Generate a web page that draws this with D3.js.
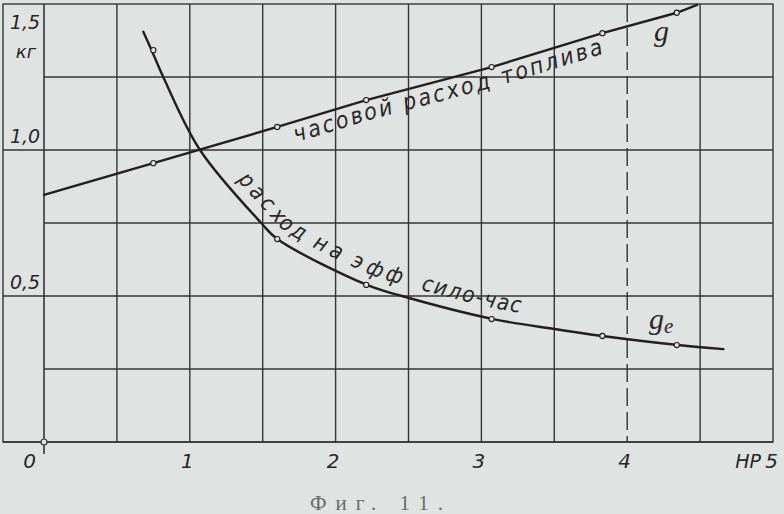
<!DOCTYPE html>
<html><head><meta charset="utf-8">
<script src="https://cdn.jsdelivr.net/npm/d3@7"></script>
<style>
html,body{margin:0;padding:0;background:#dfe3e2;}
svg{display:block;}
</style></head><body>
<svg id="chart" width="784" height="514"></svg>
<script>
// ---- data ----
const xTickValues = [0, 1, 2, 3, 4, 5];
const xTickLabels = ["0", "1", "2", "3", "4", "5"];
const xUnitLabel = "HP";
const xGridValues = [0.5, 1, 1.5, 2, 2.5, 3, 3.5, 4, 4.5];
const xDashedValue = 4;
const yTickValues = [0.5, 1.0, 1.5];
const yTickLabels = ["0,5", "1,0", "1,5"];
const yUnitLabel = "кг";
const yMajorGrid = [0.5, 1.0];
const yMinorGrid = [0.25, 0.75, 1.25];

// measured points (open circles)
const hpPoints = [0.75, 1.60, 2.21, 3.07, 3.83, 4.34];
const gPoints  = [0.955, 1.079, 1.171, 1.284, 1.400, 1.470];
const gePoints = [1.342, 0.695, 0.538, 0.421, 0.363, 0.332];

// line g (hourly fuel consumption) as drawn
const gLineX = [0, 0.75, 1.60, 2.21, 3.07, 3.83, 4.34, 4.48];
const gLineY = [0.846, 0.955, 1.079, 1.171, 1.284, 1.400, 1.470, 1.497];

// curve ge (consumption per effective HP-hour) as drawn
const geLineX = [0.681, 0.738, 0.818, 1.07, 1.49, 1.60, 2.215, 2.455, 3.08, 3.50, 3.83, 4.35, 4.66];
const geLineY = [1.405, 1.342, 1.25, 1.00, 0.75, 0.695, 0.538, 0.50, 0.421, 0.387, 0.363, 0.332, 0.318];

const gLabel = "часовой расход топлива";
const geWords = ["расход", "на", "эфф", "сило-час"];
const caption = "Фиг. 11.";

// ---- drawing ----
(function () {
const svg = d3.select("#chart");
const W = 784, H = 514;
const mLeft = 44, mRight = 773, mTop = 4, mBottom = 442, frameLeft = 3;
const x = d3.scaleLinear().domain([0, 5]).range([mLeft, mRight]);
const y = d3.scaleLinear().domain([0, 1.5]).range([mBottom, mTop]);

const bg = "#dfe3e2", gridC = "#353535", inkC = "#261d21";

svg.append("rect").attr("width", W).attr("height", H).attr("fill", bg);

const grid = svg.append("g").attr("stroke", gridC).attr("stroke-width", 1.4).attr("fill", "none");
grid.selectAll(".vg").data(xGridValues).join("line")
  .attr("x1", d => x(d)).attr("x2", d => x(d))
  .attr("y1", y(1.5)).attr("y2", y(0))
  .attr("stroke-dasharray", d => d === xDashedValue ? "18,6" : null);
grid.selectAll(".hm").data(yMinorGrid).join("line")
  .attr("x1", x(0)).attr("x2", x(5))
  .attr("y1", d => y(d)).attr("y2", d => y(d));
grid.selectAll(".hM").data(yMajorGrid).join("line")
  .attr("x1", frameLeft).attr("x2", x(5))
  .attr("y1", d => y(d)).attr("y2", d => y(d));
grid.append("rect").attr("x", frameLeft).attr("y", y(1.5))
  .attr("width", x(5) - frameLeft).attr("height", y(0) - y(1.5));
grid.append("line").attr("x1", x(0)).attr("x2", x(0)).attr("y1", y(1.5)).attr("y2", y(0) + 12)
  .attr("stroke-width", 1.6);
grid.append("line").attr("x1", frameLeft).attr("x2", x(5)).attr("y1", y(0)).attr("y2", y(0))
  .attr("stroke-width", 1.6);

const labFont = "'DejaVu Sans', sans-serif";
const xAxis = d3.axisBottom(x).tickValues(xTickValues)
  .tickFormat((d, i) => xTickLabels[i]).tickSize(0).tickPadding(0);
const xa = svg.append("g").attr("transform", `translate(0,${y(0)})`).call(xAxis);
xa.select(".domain").remove();
xa.selectAll("text")
  .attr("dy", null).attr("y", 26)
  .attr("font-family", labFont).attr("font-style", "italic")
  .attr("font-size", 20).attr("fill", "#2a2527")
  .attr("dx", d => d === 0 ? -15 : (d === 5 ? -2 : -3));
svg.append("text").attr("x", x(5) - 12).attr("y", y(0) + 26)
  .attr("text-anchor", "end").attr("font-family", labFont).attr("font-style", "italic")
  .attr("font-size", 19).attr("fill", "#2a2527").text(xUnitLabel);

const yl = svg.append("g").attr("font-family", labFont).attr("font-style", "italic")
  .attr("font-size", 19).attr("fill", "#2a2527").attr("text-anchor", "middle");
yl.selectAll("text").data(yTickValues).join("text")
  .attr("x", 25)
  .attr("y", d => d === 1.5 ? y(d) + 25 : y(d) - 7)
  .text((d, i) => yTickLabels[i]);
yl.append("text").attr("x", 26).attr("y", y(1.5) + 54).attr("font-size", 18).text(yUnitLabel);

svg.append("circle").attr("cx", x(0)).attr("cy", y(0)).attr("r", 3)
  .attr("fill", bg).attr("stroke", gridC).attr("stroke-width", 1.2);

const gData = gLineX.map((v, i) => [v, gLineY[i]]);
const geData = geLineX.map((v, i) => [v, geLineY[i]]);

const gPath = svg.append("path").attr("id", "gPath")
  .attr("d", d3.line().x(d => x(d[0])).y(d => y(d[1])).curve(d3.curveLinear)(gData))
  .attr("fill", "none").attr("stroke", inkC).attr("stroke-width", 2.4).attr("stroke-linecap", "round");
const gePath = svg.append("path").attr("id", "gePath")
  .attr("d", d3.line().x(d => x(d[0])).y(d => y(d[1])).curve(d3.curveCatmullRom.alpha(0.5))(geData))
  .attr("fill", "none").attr("stroke", inkC).attr("stroke-width", 2.4).attr("stroke-linecap", "round");

const mk = svg.append("g").attr("fill", bg).attr("stroke", inkC).attr("stroke-width", 1.1);
mk.selectAll(".mg").data(hpPoints).join("circle")
  .attr("cx", d => x(d)).attr("cy", (d, i) => y(gPoints[i])).attr("r", 2.6);
mk.selectAll(".me").data(hpPoints).join("circle")
  .attr("cx", d => x(d)).attr("cy", (d, i) => y(gePoints[i])).attr("r", 2.6);

function lengthAtX(pathNode, px) {
  const L = pathNode.getTotalLength();
  let best = 0, bd = 1e9;
  for (let s = 0; s <= L; s += 0.5) {
    const p = pathNode.getPointAtLength(s);
    const dd = Math.abs(p.x - px);
    if (dd < bd) { bd = dd; best = s; }
  }
  return best;
}

const textFont = "'DejaVu Sans Condensed', 'DejaVu Sans', sans-serif";
const gNode = gPath.node();
const gs = lengthAtX(gNode, 290), gEnd = lengthAtX(gNode, 598);
svg.append("text").attr("font-family", textFont).attr("font-style", "italic")
  .attr("font-size", 23).attr("fill", "#2a2527").attr("dy", 20)
  .append("textPath").attr("href", "#gPath")
  .attr("startOffset", gs).attr("textLength", gEnd - gs).attr("lengthAdjust", "spacing")
  .text(gLabel);

const geNode = gePath.node();
const wordStartX = [229, 307, 345, 418];
const wordEndX = [296, 334, 398, 518];
geWords.forEach((w, i) => {
  const s0 = lengthAtX(geNode, wordStartX[i]);
  const s1 = lengthAtX(geNode, wordEndX[i]);
  svg.append("text").attr("font-family", textFont).attr("font-style", "italic")
    .attr("font-size", 22).attr("fill", "#2a2527").attr("dy", -11)
    .append("textPath").attr("href", "#gePath")
    .attr("startOffset", s0).attr("textLength", s1 - s0).attr("lengthAdjust", "spacing")
    .text(w);
});

const serif = "'Liberation Serif', 'DejaVu Serif', serif";
svg.append("text").attr("x", 654).attr("y", 41).attr("font-family", serif)
  .attr("font-style", "italic").attr("font-size", 30).attr("fill", "#2a2527").text("g");
const geLab = svg.append("text").attr("x", 649).attr("y", 329).attr("font-family", serif)
  .attr("font-style", "italic").attr("font-size", 30).attr("fill", "#2a2527");
geLab.append("tspan").text("g");
geLab.append("tspan").attr("font-size", 21).attr("dy", 4).text("e");

svg.append("text").attr("x", 310).attr("y", 510).attr("font-family", serif)
  .attr("font-size", 21).attr("letter-spacing", 9).attr("fill", "#6a6a6a").text(caption);
})();
</script>
</body></html>
